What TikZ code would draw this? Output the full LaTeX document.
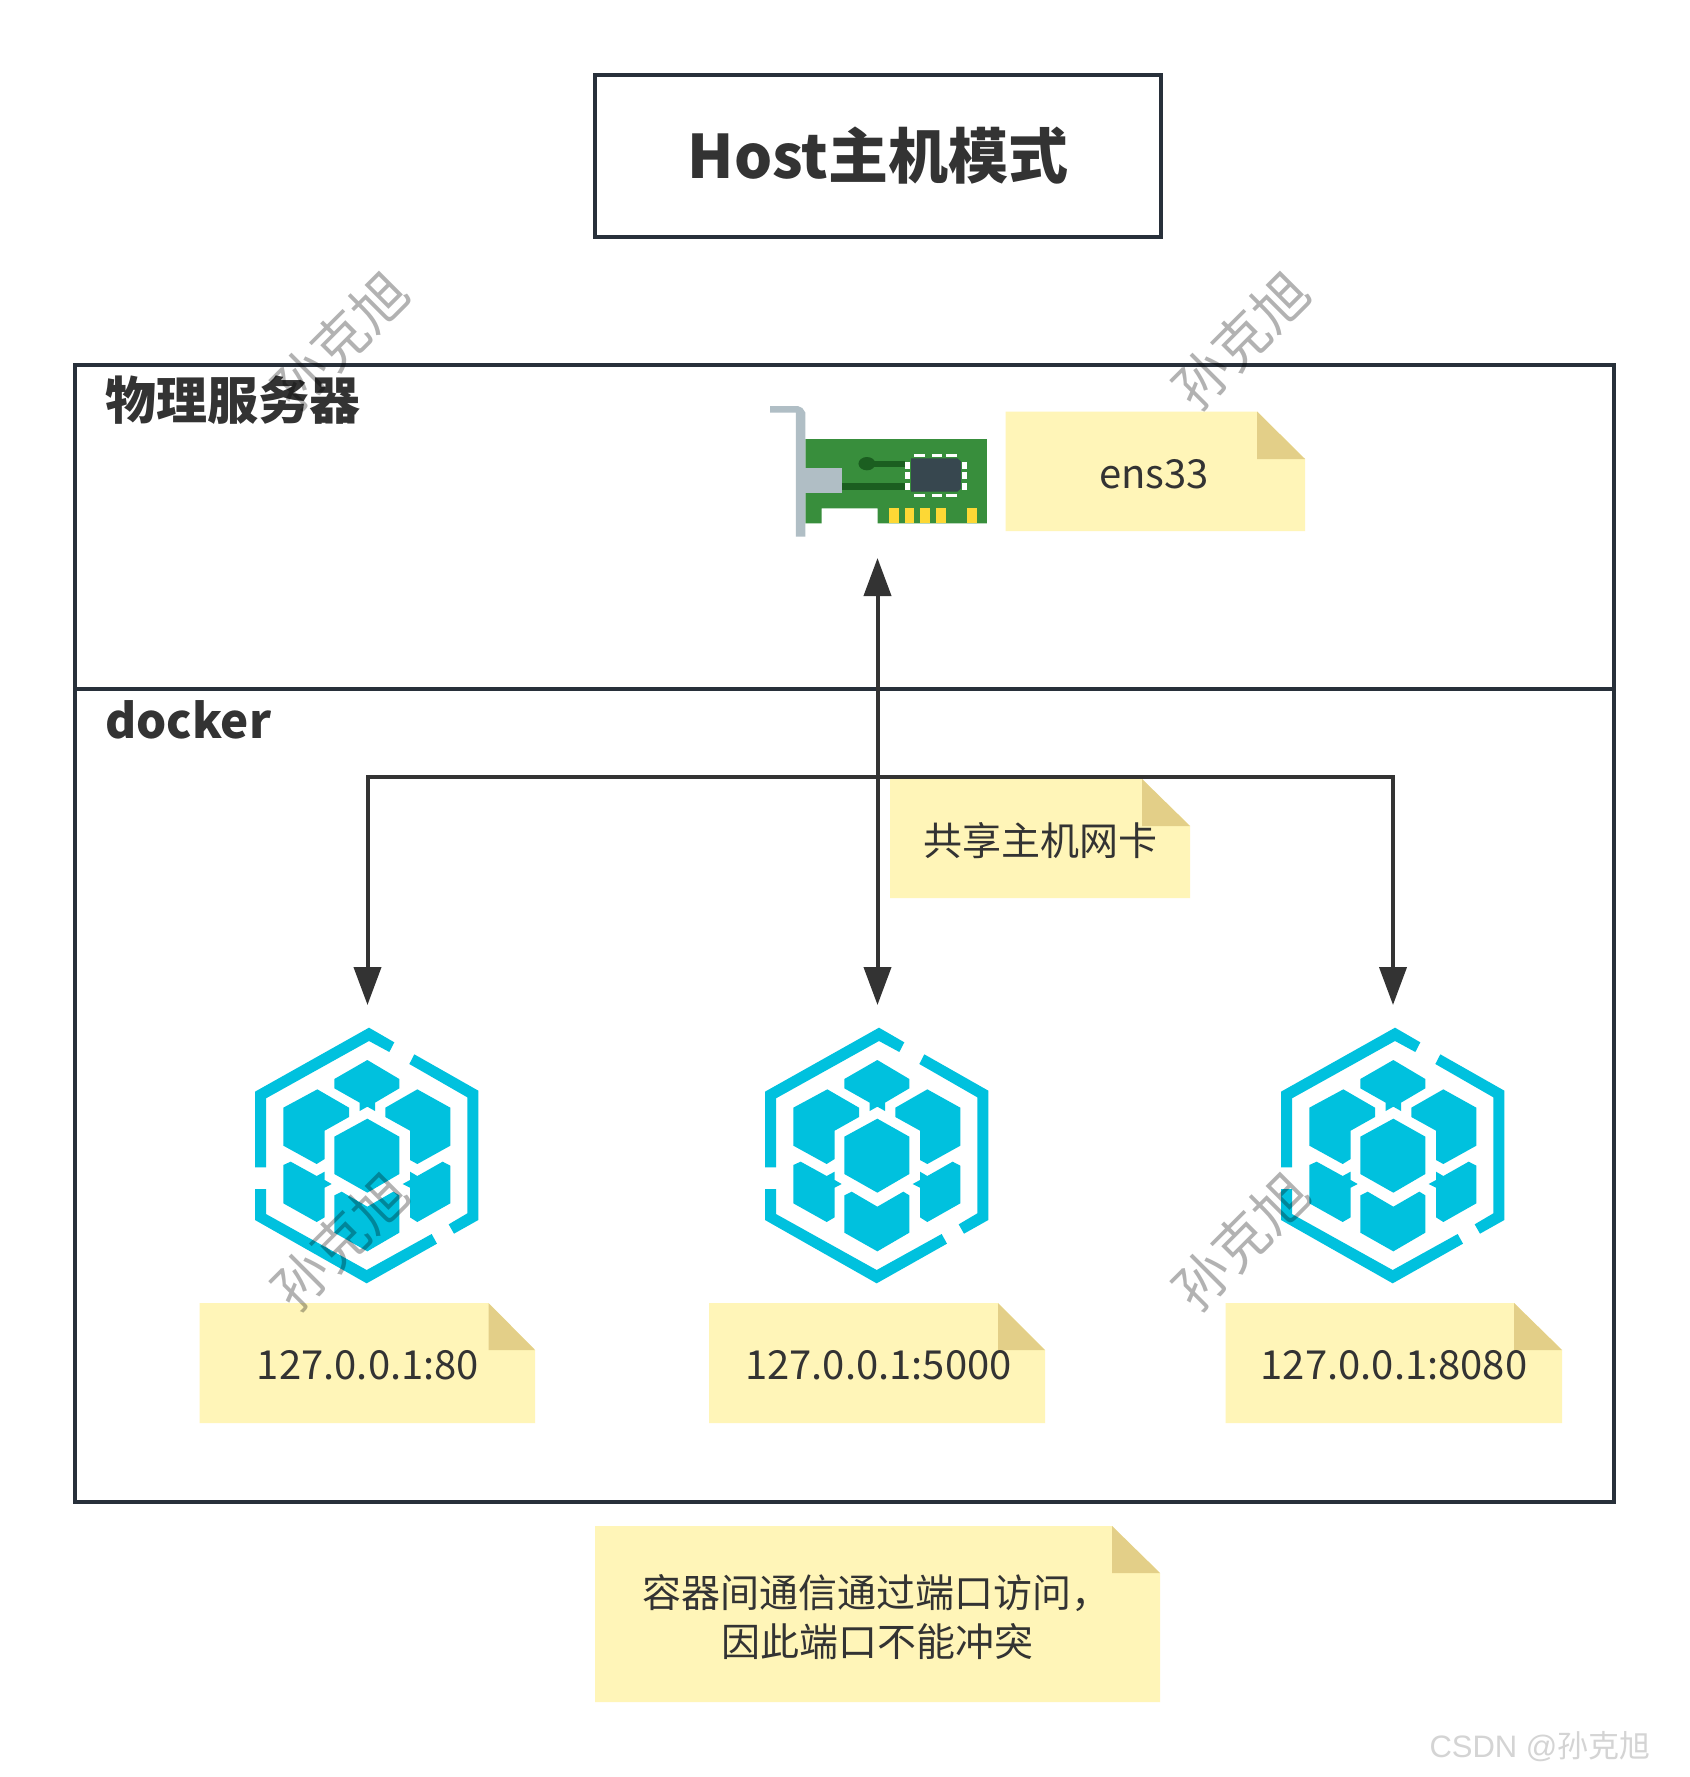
\documentclass[tikz,border=0pt]{standalone}
\usepackage{fontspec}
\setmainfont{Noto Sans CJK SC}
\newfontfamily\csdnfont{Liberation Sans}
\usetikzlibrary{arrows.meta}
\definecolor{ink}{HTML}{333333}
\definecolor{frameink}{HTML}{28303A}
\definecolor{notefill}{HTML}{FFF5B8}
\definecolor{notefold}{HTML}{E3CF88}
\definecolor{hexblue}{HTML}{00C1DE}
\definecolor{pcbgreen}{HTML}{388E3C}
\definecolor{pcbdark}{HTML}{1B5E20}
\definecolor{bracket}{HTML}{B0BEC5}
\definecolor{chipcol}{HTML}{37474F}
\definecolor{goldcol}{HTML}{FDD835}
\tikzset{
  frame/.style={draw=frameink,line width=3.8pt,fill=none},
  conn/.style={draw=ink,line width=4pt,{Triangle[length=38pt,width=27pt]}-{Triangle[length=38pt,width=27pt]}},
  notetxt/.style={text=ink,font=\fontsize{39}{49}\selectfont,align=center,inner sep=0pt},
  addrtxt/.style={text=ink,font=\fontsize{40}{49}\selectfont,align=center,inner sep=0pt},
  headtxt/.style={text=ink,font=\fontsize{51}{60}\selectfont\bfseries,inner sep=0pt,anchor=west},
  wmark/.style={text=black,opacity=.3,rotate=45,font=\fontsize{55}{60}\selectfont,inner sep=0pt},
  hexpart/.style={fill=hexblue,draw=none}
}
\newcommand{\notesheet}[6]{%
  \fill[notefill] (#1,#2) -- (#5,#2) -- (#3,#6) -- (#3,#4) -- (#1,#4) -- cycle;
  \fill[notefold] (#5,#2) -- (#3,#6) -- (#5,#6) -- cycle;
}
\newcommand{\hexicon}[1]{%
\begin{scope}[x=0.33333pt,y=-0.33333pt,shift={(#1pt,-1010pt)}]
  \fill[hexpart] (75,472)--(75,245)--(417,53)--(493,97)--(478,126)--(417,93)--(108,265)--(108,472)--cycle;
  \fill[hexpart] (553,133)--(745,242)--(745,630)--(672,671)--(656,643)--(712,610)--(712,262)--(538,162)--cycle;
  \fill[hexpart] (621,701)--(410,820)--(75,630)--(75,537)--(108,537)--(108,612)--(410,780)--(605,672)--cycle;
  \fill[hexpart] (412,150)--(508,207)--(508,235)--(435,278)--(435,303)--(412,290)--(389,303)--(389,278)--(313,235)--(313,207)--cycle;
  \fill[hexpart] (262,238)--(357,293)--(357,321)--(284,362)--(284,447)--(260,462)--(160,407)--(160,293)--cycle;
  \fill[hexpart] (562,238)--(661,293)--(661,407)--(562,462)--(540,450)--(540,362)--(466,321)--(466,293)--cycle;
  \fill[hexpart] (412,326)--(508,380)--(508,492)--(412,548)--(313,492)--(313,380)--cycle;
  \fill[hexpart] (182,455)--(260,498)--(284,485)--(284,510)--(305,522)--(284,533)--(284,622)--(260,636)--(160,580)--(160,465)--cycle;
  \fill[hexpart] (638,455)--(661,467)--(661,580)--(562,636)--(540,622)--(540,533)--(518,522)--(540,510)--(540,485)--(562,498)--cycle;
  \fill[hexpart] (335,545)--(412,590)--(490,545)--(508,556)--(508,668)--(412,724)--(313,668)--(313,556)--cycle;
\end{scope}}
\begin{document}
\begin{tikzpicture}[x=1pt,y=-1pt]
\useasboundingbox (0,0) rectangle (1689,1777);
\fill[white] (0,0) rectangle (1689,1777);

% frames
\draw[frame] (595,75) rectangle (1161,237);
\draw[frame] (75,365) rectangle (1614,1502);
\draw[frame] (75,689) -- (1614,689);
\node[text=ink,font=\fontsize{60}{70}\selectfont\bfseries,inner sep=0pt] (title) at (878,156) {Host主机模式};
\node[headtxt] (phys) at (105,400) {物理服务器};
\node[text=ink,font=\fontsize{47.5}{60}\selectfont\bfseries,inner sep=0pt,anchor=west] (dock) at (105,720) {docker};

% network card
\begin{scope}[x=0.38462pt,y=-0.33333pt,shift={(740pt,-380pt)}]
  \fill[pcbgreen] (170,177)--(642,177)--(642,430)--(358,430)--(358,385)--(212,385)--(212,430)--(170,430)--cycle;
  \fill[bracket] (78,78)--(150,78)--(162,84)--(170,98)--(170,470)--(145,470)--(145,98)--(78,98)--cycle;
  \fill[bracket] (170,265) rectangle (265,340);
  \fill[pcbdark] (265,310) rectangle (430,330);
  \fill[pcbdark] (330,242) rectangle (430,260);
  \fill[pcbdark] (330,251) ellipse[x radius=22,y radius=20];
  \fill[chipcol] (445,235) -- (565,235) -- (575,245) -- (575,325) -- (565,335) -- (445,335) -- cycle;
  \foreach \gx in {452,498,535} {
    \fill[white] (\gx,222) rectangle ++(28,8);
    \fill[white] (\gx,342) rectangle ++(28,8);
  }
  \foreach \gy in {245,275,308} {
    \fill[white] (428,\gy) rectangle ++(14,21);
    \fill[white] (578,\gy) rectangle ++(12,21);
  }
  \foreach \gx in {388,428,468,510,590} \fill[goldcol] (\gx,385) rectangle ++(25,45);
\end{scope}

% notes
\notesheet{1005.5}{411.5}{1305}{531}{1257}{459}
\node[addrtxt] (ens) at (1154,474) {ens33};
\notesheet{890}{779}{1190}{898}{1142}{826}
\node[notetxt] (share) at (1040,841) {共享主机网卡};
\notesheet{199.5}{1303}{535}{1423}{488.5}{1350}
\node[addrtxt] (addra) at (368,1365) {127.0.0.1:80};
\notesheet{709}{1303}{1045}{1423}{998}{1350}
\node[addrtxt] (addrb) at (878.5,1365) {127.0.0.1:5000};
\notesheet{1225.5}{1303}{1562}{1423}{1514}{1350}
\node[addrtxt] (addrc) at (1394,1365) {127.0.0.1:8080};
\notesheet{595}{1526}{1160}{1702}{1112}{1573}
\node[notetxt] (bottoma) at (876,1593) {容器间通信通过端口访问，};
\node[notetxt] (bottomb) at (877,1642) {因此端口不能冲突};

% containers
\hexicon{230}
\hexicon{740}
\hexicon{1256}

% connectors
\coordinate (nic) at (877.5,558);
\coordinate (cona) at (367.5,1005);
\coordinate (conb) at (877.5,1005);
\coordinate (conc) at (1393,1005);
\coordinate (bus) at (877.5,776.5);
\draw[conn] (cona) |- (bus) -| (conc);
\draw[conn] (nic) -- (conb);

% watermarks
\node[wmark] (wma) at (340,340) {孙克旭};
\node[wmark] (wmb) at (1241,340) {孙克旭};
\node[wmark] (wmc) at (340,1241) {孙克旭};
\node[wmark] (wmd) at (1241,1241) {孙克旭};
\node[text=black!17,inner sep=0pt,font=\fontsize{31}{36}\selectfont] (csdn) at (1540,1747) {{\csdnfont CSDN @}孙克旭};
\end{tikzpicture}
\end{document}
